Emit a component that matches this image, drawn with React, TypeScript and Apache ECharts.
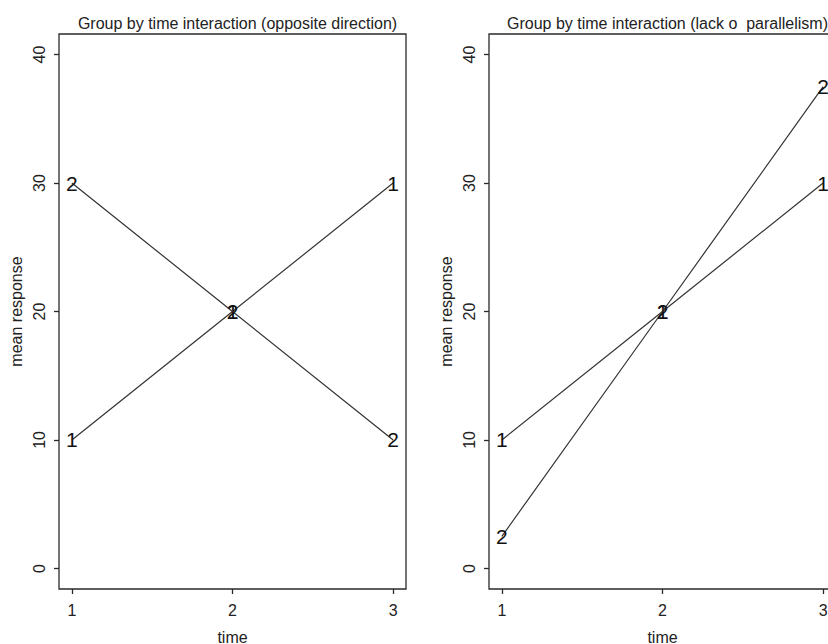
import React, { useEffect, useRef } from "react";
import * as echarts from "echarts";

// Mean response by time for two groups, in two interaction patterns.
const timePoints = [1, 2, 3];
const groupNames = ["1", "2"];
const oppositeGroup1 = [10, 20, 30];
const oppositeGroup2 = [30, 20, 10];
const parallelGroup1 = [10, 20, 30];
const parallelGroup2 = [2.5, 20, 37.5];
const yTickValues = [0, 10, 20, 30, 40];
const panelTitles = [
  "Group by time interaction (opposite direction)",
  "Group by time interaction (lack o  parallelism)",
];
const xAxisTitle = "time";
const yAxisTitle = "mean response";

const FONT = "'Liberation Sans', Arial, Helvetica, sans-serif";
const INK = "#222";

const panels = [
  { left: 59, groups: [oppositeGroup1, oppositeGroup2] },
  { left: 489, groups: [parallelGroup1, parallelGroup2] },
];
const GRID_TOP = 34;
const GRID_W = 347;
const GRID_H = 555;

export default function App() {
  const ref = useRef<HTMLDivElement>(null);

  useEffect(() => {
    if (!ref.current) return;
    const chart = echarts.init(ref.current, undefined, { renderer: "svg" });

    const grid = panels.map((p) => ({
      left: p.left,
      top: GRID_TOP,
      width: GRID_W,
      height: GRID_H,
      outerBoundsMode: "none",
      containLabel: false,
      show: true,
      borderColor: "#2a2a2a",
      borderWidth: 1.3,
      backgroundColor: "transparent",
    }));

    const xAxis = panels.map((_, i) => ({
      type: "value",
      gridIndex: i,
      min: 0.92,
      max: 3.08,
      name: xAxisTitle,
      nameLocation: "middle",
      nameGap: 40,
      nameTextStyle: { fontFamily: FONT, fontSize: 16, color: INK },
      axisLine: { show: false, onZero: false },
      splitLine: { show: false },
      axisTick: {
        show: true,
        inside: false,
        length: 5,
        customValues: timePoints,
        lineStyle: { color: "#2a2a2a", width: 1.3 },
      },
      axisLabel: {
        customValues: timePoints,
        margin: 13,
        fontFamily: FONT,
        fontSize: 16,
        color: INK,
      },
    }));

    const yAxis = panels.map((_, i) => ({
      type: "value",
      gridIndex: i,
      min: -1.6,
      max: 41.6,
      name: yAxisTitle,
      nameLocation: "middle",
      nameGap: 35,
      nameRotate: 90,
      nameTextStyle: { fontFamily: FONT, fontSize: 16, color: INK },
      axisLine: { show: false, onZero: false },
      splitLine: { show: false },
      axisTick: {
        show: true,
        inside: false,
        length: 5,
        customValues: yTickValues,
        lineStyle: { color: "#2a2a2a", width: 1.3 },
      },
      axisLabel: {
        customValues: yTickValues,
        rotate: 90,
        margin: 12,
        fontFamily: FONT,
        fontSize: 16,
        color: INK,
      },
    }));

    const series: any[] = [];
    panels.forEach((p, i) => {
      p.groups.forEach((values, g) => {
        series.push({
          type: "line",
          name: groupNames[g],
          xAxisIndex: i,
          yAxisIndex: i,
          data: timePoints.map((t, k) => [t, values[k]]),
          symbol: "circle",
          symbolSize: 2,
          showSymbol: true,
          itemStyle: { color: "transparent", borderWidth: 0 },
          lineStyle: { color: "#333", width: 1.2 },
          label: {
            show: true,
            position: "inside",
            formatter: groupNames[g],
            fontFamily: FONT,
            fontSize: 21,
            color: "#111",
          },
          emphasis: { disabled: true },
          z: 2 + g,
        });
      });
    });

    chart.setOption({
      animation: false,
      backgroundColor: "#fff",
      title: panels.map((p, i) => ({
        text: panelTitles[i],
        left: p.left + GRID_W / 2,
        top: 10,
        textAlign: "center",
        textStyle: { fontFamily: FONT, fontSize: 16, fontWeight: "normal", color: INK },
      })),
      grid,
      xAxis,
      yAxis,
      series,
    });

    return () => chart.dispose();
  }, []);

  return (
    <div
      style={{
        position: "fixed",
        left: 0,
        top: 0,
        width: 828,
        height: 644,
        overflow: "hidden",
        background: "#fff",
      }}
    >
      <div ref={ref} style={{ width: 844, height: 644 }} />
    </div>
  );
}
